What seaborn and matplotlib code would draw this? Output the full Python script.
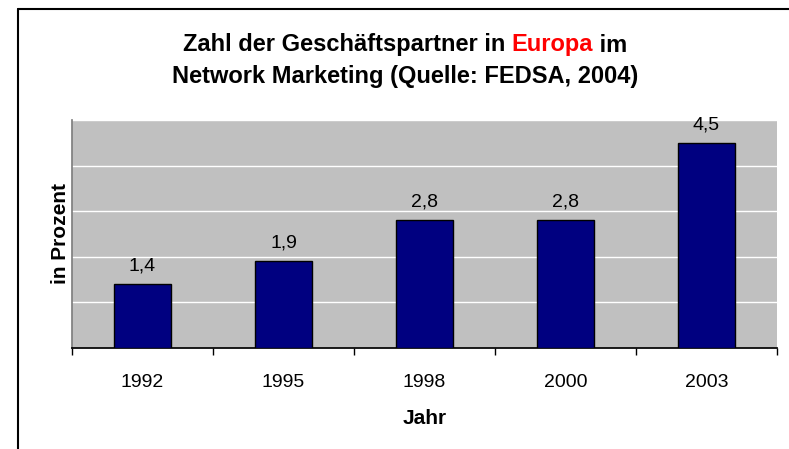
import numpy as np
import pandas as pd
import seaborn as sns
from matplotlib import pyplot as plt
from matplotlib.lines import Line2D

years = ["1992", "1995", "1998", "2000", "2003"]
values = [1.4, 1.9, 2.8, 2.8, 4.5]
value_labels = ["1,4", "1,9", "2,8", "2,8", "4,5"]
title_line1 = [("Zahl der Geschäftspartner in ", "black"), ("Europa", "red"), (" im", "black")]
title_line2 = "Network Marketing (Quelle: FEDSA, 2004)"

sns.set_theme(style="white")
plt.rcParams["font.family"] = ["Liberation Sans", "DejaVu Sans"]
plt.rcParams["text.color"] = "black"
plt.rcParams["axes.labelcolor"] = "black"
plt.rcParams["xtick.color"] = "black"

df = pd.DataFrame({"Jahr": years, "Wert": values})

fig = plt.figure(figsize=(7.89, 4.49), dpi=100)
ax = fig.add_axes([72 / 789, 1 - 348 / 449, (777 - 72) / 789, (348 - 120) / 449])
ax.set_facecolor("#C0C0C0")

sns.barplot(data=df, x="Jahr", y="Wert", color="#000080", width=0.4,
            edgecolor="black", linewidth=1, saturation=1, ax=ax, zorder=3)

ax.set_ylim(0, 5)
ax.set_yticks(np.arange(0, 6, 1))
ax.set_yticklabels([])
ax.tick_params(axis="y", length=0)
ax.grid(axis="y", color="white", linewidth=1, zorder=0)
ax.set_axisbelow(True)

# category borders as ticks, labels in the middle
ax.set_xlim(-0.5, len(years) - 0.5)
ax.set_xticks(np.arange(-0.5, len(years), 1), minor=True)
ax.tick_params(axis="x", which="minor", bottom=True, length=5, width=1, color="black", direction="out")
ax.tick_params(axis="x", which="major", length=0, pad=19, labelsize=14, labelcolor="black")

for s in ["top", "right"]:
    ax.spines[s].set_visible(False)
ax.spines["bottom"].set_color("black")
ax.spines["left"].set_color("#808080")

ax.bar_label(ax.containers[0], labels=value_labels, padding=7, fontsize=14, color="black")

ax.set_xlabel("Jahr", fontsize=15, fontweight="bold", labelpad=13)
ax.set_ylabel("in Prozent", fontsize=15, fontweight="bold", labelpad=-2)

# title with coloured word
fig.canvas.draw()
renderer = fig.canvas.get_renderer()
cx = 405 / 789
parts = []
for txt, col in title_line1:
    t = fig.text(0, 1 - 45 / 449, txt, color=col, fontsize=17, fontweight="bold", va="center", ha="left")
    parts.append(t)
widths = [p.get_window_extent(renderer).width for p in parts]
x0 = cx * 789 - sum(widths) / 2
for p, w in zip(parts, widths):
    p.set_x(x0 / 789)
    x0 += w
fig.text(cx, 1 - 77 / 449, title_line2, fontsize=17, fontweight="bold", va="center", ha="center")

# chart border
fig.add_artist(Line2D([18 / 789, 18 / 789], [0, 1 - 8.5 / 449], color="black", lw=1.5, transform=fig.transFigure))
fig.add_artist(Line2D([18 / 789, 1], [1 - 8.5 / 449, 1 - 8.5 / 449], color="black", lw=1.5, transform=fig.transFigure))

fig.savefig("out.png", dpi=100)
